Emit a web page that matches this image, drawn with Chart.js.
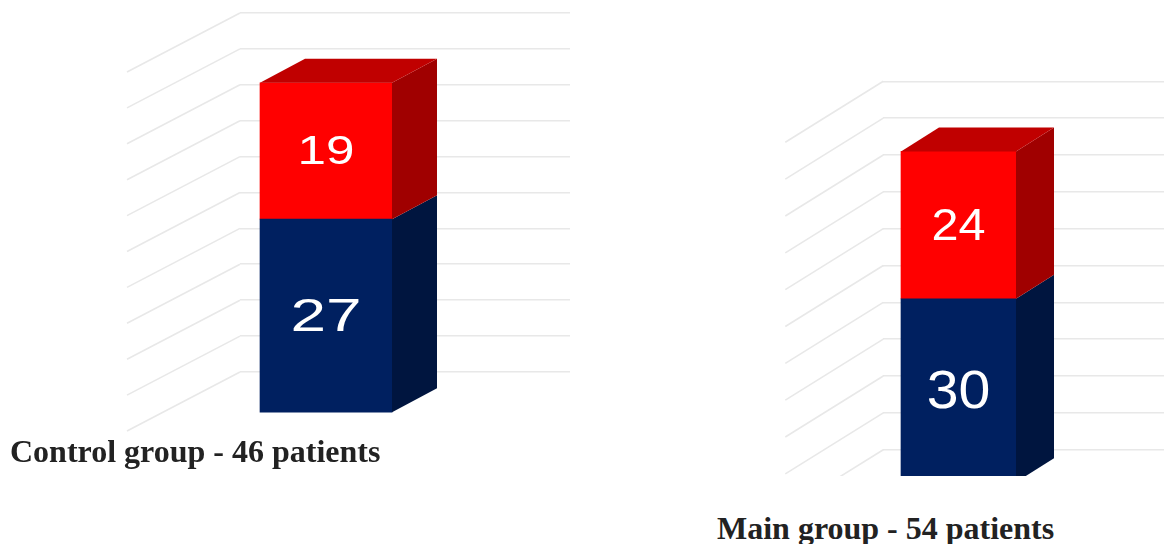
<!DOCTYPE html>
<html>
<head>
<meta charset="utf-8">
<title>Patients by group</title>
<script src="https://cdn.jsdelivr.net/npm/chart.js@4"></script>
<style>
  html, body { margin: 0; padding: 0; width: 1164px; height: 544px; overflow: hidden; background: #fff; }
  canvas { position: absolute; top: 0; }
  #control-chart { left: 100px; }
  #main-chart { left: 700px; }
  .group-label {
    position: absolute;
    font-family: "Liberation Serif", serif;
    font-weight: bold;
    font-size: 32px;
    line-height: 34px;
    color: #222;
    white-space: nowrap;
  }
  #control-label { left: 10px; top: 434px; }
  #main-label { left: 717px; top: 511px; }
</style>
</head>
<body>
<canvas id="control-chart" width="480" height="440"></canvas>
<canvas id="main-chart" width="470" height="476"></canvas>
<div class="group-label" id="control-label">Control group - 46 patients</div>
<div class="group-label" id="main-label">Main group - 54 patients</div>

<script>
// values for each group, lower block first
const controlCategories = ["Control group"];
const controlLower = [27];
const controlUpper = [19];

const mainCategories = ["Main group"];
const mainLower = [30];
const mainUpper = [24];

const NAVY = { front: "#002060", side: "#00153f" };
const RED = { front: "#ff0000", side: "#a00000", top: "#c00000" };
const GRID_COLOR = "#e8e8e8";

// Fakes the 3D look: side walls, bar sides and the value labels.
// Bars are drawn by Chart.js, just moved forward from the back wall.
const boxPlugin = {
  id: "box3d",
  beforeDatasetsDraw(chart, args, opts) {
    const ctx = chart.ctx;
    const yScale = chart.scales.y;
    const left = chart.chartArea.left;

    ctx.save();
    ctx.strokeStyle = GRID_COLOR;
    ctx.lineWidth = 1.6;
    yScale.ticks.forEach(function (tick) {
      const y = yScale.getPixelForValue(tick.value);
      ctx.beginPath();
      ctx.moveTo(left, y);
      ctx.lineTo(left - opts.wallX, y + opts.wallY);
      ctx.stroke();
    });
    ctx.restore();

    ctx.save();
    ctx.translate(-opts.shiftX, opts.shiftY);
  },
  afterDatasetsDraw(chart, args, opts) {
    const ctx = chart.ctx;
    const dx = opts.depthX;
    const dy = opts.depthY;

    chart.data.datasets.forEach(function (ds, i) {
      const bar = chart.getDatasetMeta(i).data[0];
      const right = bar.x + bar.width / 2;
      const left = bar.x - bar.width / 2;

      // right side
      ctx.fillStyle = ds.sideColor;
      ctx.beginPath();
      ctx.moveTo(right, bar.base);
      ctx.lineTo(right + dx, bar.base - dy);
      ctx.lineTo(right + dx, bar.y - dy);
      ctx.lineTo(right, bar.y);
      ctx.closePath();
      ctx.fill();

      // only the last block shows its top
      if (i === chart.data.datasets.length - 1) {
        ctx.fillStyle = ds.topColor;
        ctx.beginPath();
        ctx.moveTo(left, bar.y);
        ctx.lineTo(left + dx, bar.y - dy);
        ctx.lineTo(right + dx, bar.y - dy);
        ctx.lineTo(right, bar.y);
        ctx.closePath();
        ctx.fill();
      }

      // value in the middle of the block
      ctx.save();
      ctx.translate(bar.x, (bar.y + bar.base) / 2 + 2.5);
      ctx.scale(opts.labelStretch[i], 1);
      ctx.fillStyle = "#fff";
      ctx.font = opts.labelSizes[i] + 'px "Liberation Sans", Arial, sans-serif';
      ctx.textAlign = "center";
      ctx.textBaseline = "middle";
      ctx.fillText(String(ds.data[0]), 0, 0);
      ctx.restore();
    });

    ctx.restore();
  },
};

function makeChart(id, categories, lower, upper, axis, box, padding, thickness) {
  return new Chart(document.getElementById(id), {
    type: "bar",
    data: {
      labels: categories,
      datasets: [
        {
          data: lower,
          backgroundColor: NAVY.front,
          sideColor: NAVY.side,
          barThickness: thickness,
          clip: false,
        },
        {
          data: upper,
          backgroundColor: RED.front,
          sideColor: RED.side,
          topColor: RED.top,
          barThickness: thickness,
          clip: false,
        },
      ],
    },
    options: {
      responsive: false,
      animation: false,
      layout: { padding: padding },
      plugins: {
        legend: { display: false },
        tooltip: { enabled: false },
        box3d: box,
      },
      scales: {
        x: { stacked: true, display: false },
        y: {
          stacked: true,
          min: 0,
          max: axis.max,
          ticks: { display: false, stepSize: axis.step },
          grid: { color: GRID_COLOR, lineWidth: 1.6, drawTicks: false },
          border: { display: false },
        },
      },
    },
    plugins: [boxPlugin],
  });
}

makeChart(
  "control-chart",
  controlCategories,
  controlLower,
  controlUpper,
  { max: 50, step: 5 },
  {
    shiftX: 79, shiftY: 41,
    depthX: 45, depthY: 24,
    wallX: 113, wallY: 59,
    labelStretch: [1.36, 1.28], labelSizes: [47, 40],
  },
  { left: 140, right: 10, top: 13, bottom: 68 },
  132
);

makeChart(
  "main-chart",
  mainCategories,
  mainLower,
  mainUpper,
  { max: 60, step: 6 },
  {
    shiftX: 67.5, shiftY: 33.3,
    depthX: 38, depthY: 24,
    wallX: 98, wallY: 61,
    labelStretch: [1.08, 1.08], labelSizes: [53, 45],
  },
  { left: 183.3, right: 1.3, top: 81.3, bottom: 26.3 },
  115
);
</script>
</body>
</html>
